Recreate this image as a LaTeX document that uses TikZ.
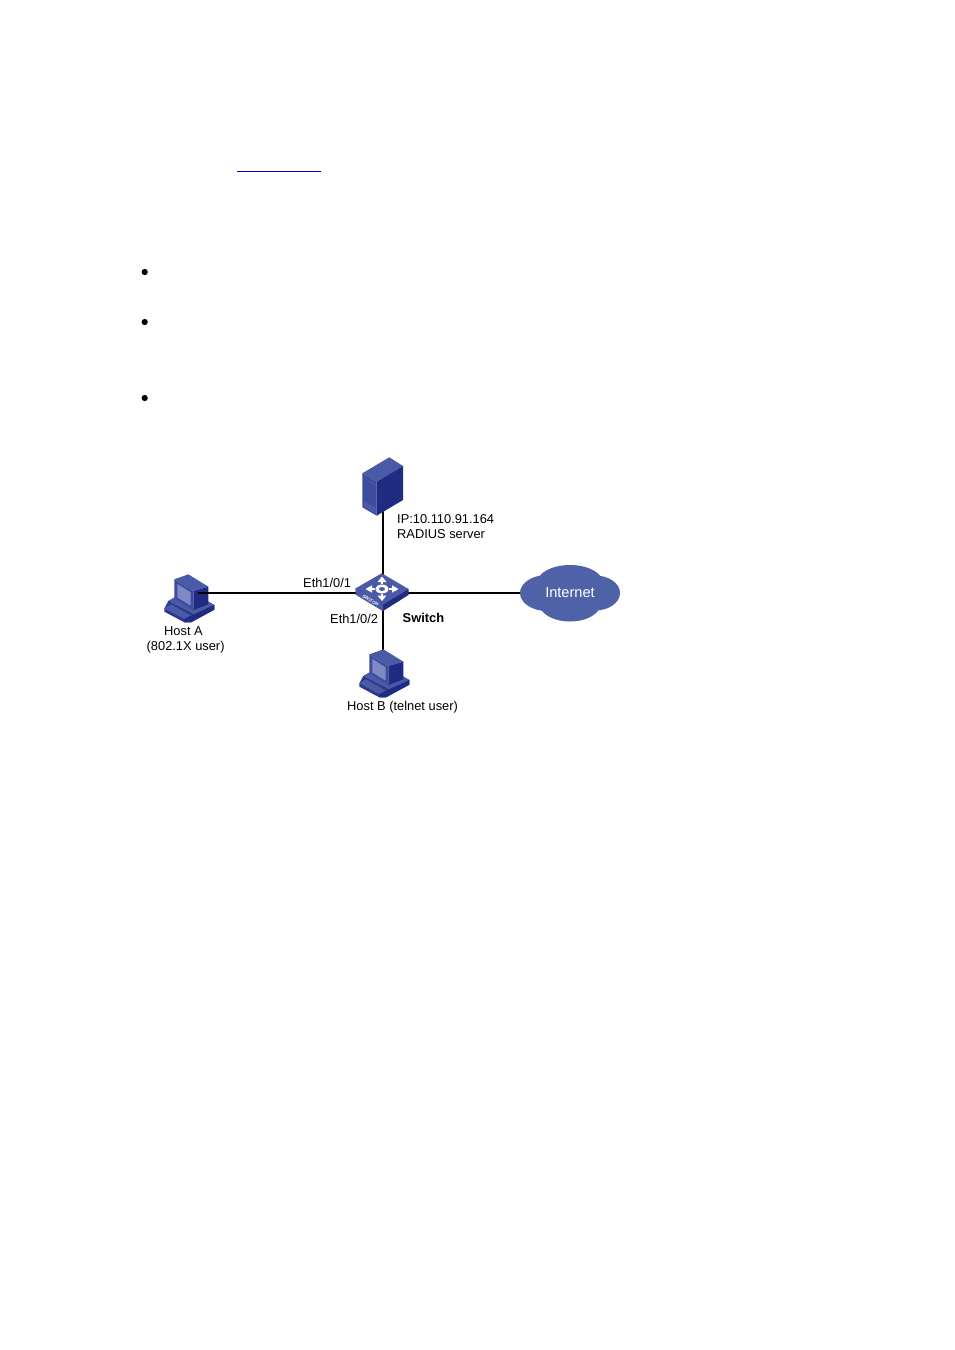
\documentclass[tikz,border=0pt]{standalone}
\usepackage{fontspec}
\setmainfont{Liberation Sans}
\definecolor{bluemid}{HTML}{4A5AA6}
\definecolor{blueface}{HTML}{3D4C9C}
\definecolor{bluedark}{HTML}{1F2C82}
\definecolor{bluedeep}{HTML}{2B3A8C}
\definecolor{bluelight}{HTML}{7F8AC4}
\definecolor{cloudblue}{HTML}{4F62A8}
\definecolor{linkblue}{HTML}{0000C8}
\tikzset{
  x=1pt,y=-1pt,
  wire/.style={line width=1.6pt,black},
  lbl/.style={font=\fontsize{12.85}{14}\selectfont,inner sep=0pt,anchor=base west,text=black},
  hook/.style={inner sep=0pt,minimum size=1pt},
  bullet/.style={circle,fill=black,inner sep=0pt,minimum size=6.2pt},
  hostpic/.pic={
    \begin{scope}[x=0.3333pt,y=-0.3333pt]
      % keyboard and base
      \fill[bluedeep] (28,130)--(28,140)--(88,172)--(108,172)--(178,134)--(178,120)--(160,110)--(115,135)--(58,100)--(40,108)--cycle;
      \fill[bluemid] (28,130)--(48,118)--(108,152)--(88,162)--cycle;
      \fill[bluemid] (40,108)--(58,97)--(115,132)--(160,110)--(178,120)--(118,148)--cycle;
      \fill[bluedark] (88,162)--(108,152)--(178,120)--(178,134)--(108,172)--(88,172)--cycle;
      % monitor
      \fill[bluemid] (58,43)--(100,28)--(160,65)--(115,78)--cycle;
      \fill[blueface] (58,43)--(115,78)--(115,135)--(58,100)--cycle;
      \fill[bluedark] (115,78)--(160,65)--(160,118)--(115,135)--cycle;
      \fill[bluelight] (67,57)--(107,82)--(107,122)--(67,97)--cycle;
    \end{scope}
  }
}
\begin{document}
\begin{tikzpicture}
\useasboundingbox (0,0) rectangle (954,1350);
\fill[white] (0,0) rectangle (954,1350);

% link underline and bullets
\node[hook] (ulA) at (237,171.5) {};
\node[hook] (ulB) at (321,171.5) {};
\draw[linkblue,line width=0.8pt] (ulA.center) -- (ulB.center);
\node[bullet] (b1) at (144.7,272) {};
\node[bullet] (b2) at (144.7,322) {};
\node[bullet] (b3) at (144.7,398) {};

% anchors
\node[hook] (server) at (383,500) {};
\node[hook] (switch) at (383,592.7) {};
\node[hook] (hostA) at (198,592.7) {};
\node[hook] (hostB) at (383,660) {};

% cloud
\fill[cloudblue] (547,593) ellipse [x radius=27,y radius=18];
\fill[cloudblue] (595,593) ellipse [x radius=25,y radius=17.5];
\fill[cloudblue] (570,583) ellipse [x radius=33,y radius=18];
\fill[cloudblue] (570,603) ellipse [x radius=31,y radius=18.5];
\node[hook,minimum width=100pt,minimum height=40pt,text=white,font=\fontsize{14.6}{16}\selectfont] (cloud) at (570,592.7) {Internet};

% wires behind icons
\draw[wire] (switch.center) -- (cloud.west);
\draw[wire] (server.center) -- (hostB.center);

% host icons
\pic at (155,565) {hostpic};
\pic at (350,640) {hostpic};
\draw[wire] (switch.center) -- (hostA.center);

% server
\fill[bluemid] (362.3,473.3)--(389.3,457.3)--(403,466)--(376.7,481.7)--cycle;
\fill[blueface] (362.3,473.3)--(376.7,481.7)--(376.7,515.7)--(362.3,507.3)--cycle;
\fill[bluedark] (376.7,481.7)--(403,466)--(403,500)--(376.7,515.7)--cycle;
\draw[bluemid,line width=0.6pt] (363.5,478)--(375.5,485);
\fill[bluemid] (364,501)--(375.5,507.5)--(375.5,513.5)--(364,507)--cycle;

% switch
\fill[bluedark] (355.7,588.3)--(355.7,594.5)--(383,611)--(408.5,595)--(408.5,589)--cycle;
\fill[bluemid] (355.7,594.5)--(383,611)--(383,604.5)--(355.7,588.3)--cycle;
\fill[bluemid] (355.7,588.3)--(381.7,573.3)--(408.5,589)--(383,604.5)--cycle;
\begin{scope}[white]
  \fill[even odd rule] (382,589) ellipse [x radius=6.5,y radius=4.5] (382,589) ellipse [x radius=3.2,y radius=2];
  \draw[line width=1.6pt] (382,584)--(382,581.5) (382,594)--(382,596.5) (375,589)--(370,589) (389,589)--(394,589);
  \fill (382,576.5)--(377.5,582)--(386.5,582)--cycle;
  \fill (382,601)--(377.5,595.5)--(386.5,595.5)--cycle;
  \fill (365.5,589)--(372,585.3)--(372,592.7)--cycle;
  \fill (398.5,589)--(392,585.3)--(392,592.7)--cycle;
\end{scope}
\node[hook,text=white,rotate=-30,font=\bfseries\fontsize{4.5}{5}\selectfont] (swtext) at (370.5,600.5) {SWITCH};

% labels
\node[lbl] (t1) at (397,523) {IP:10.110.91.164};
\node[lbl] (t2) at (397,538.5) {RADIUS server};
\node[lbl] (t3) at (303,587) {Eth1/0/1};
\node[lbl] (t4) at (330,623) {Eth1/0/2};
\node[lbl,font=\bfseries\fontsize{12.85}{14}\selectfont] (t5) at (402.5,622.5) {Switch};
\node[lbl] (t6) at (164,635.5) {Host A};
\node[lbl] (t7) at (146.5,650.5) {(802.1X user)};
\node[lbl] (t8) at (347,710) {Host B (telnet user)};
\end{tikzpicture}
\end{document}
